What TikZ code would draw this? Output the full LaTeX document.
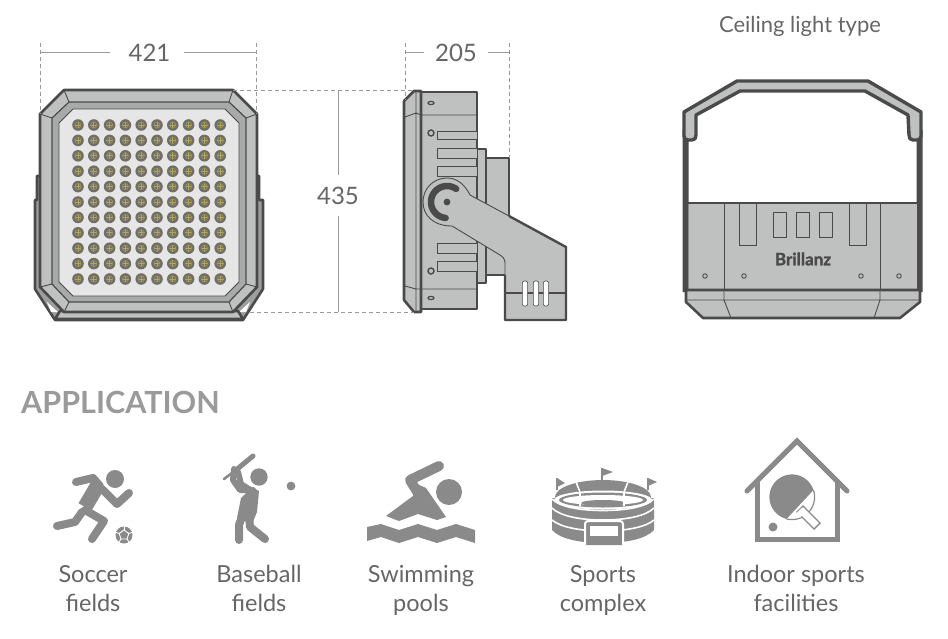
\documentclass[tikz,border=0pt]{standalone}
\usepackage{fontspec}
\setmainfont{Lato}
\newfontfamily\brandfont[BoldFeatures={FakeBold=1.6}]{Lato}
\definecolor{bodygray}{HTML}{BFC1C0}
\definecolor{darkline}{HTML}{4A4A4A}
\definecolor{panelgray}{HTML}{E6E6E6}
\definecolor{icongray}{HTML}{8A8A8A}
\definecolor{dimgray}{HTML}{9A9A9A}
\definecolor{textgray}{HTML}{666666}
\definecolor{ledgray}{HTML}{6F6E68}
\definecolor{ledyellow}{HTML}{B5AB55}
\tikzset{
  lamp/.style={draw=darkline,fill=bodygray,line width=1.2pt,line join=round},
  heavy/.style={draw=darkline,fill=bodygray,line width=2.6pt,line join=round},
  thinline/.style={draw=darkline,line width=.9pt},
  dimline/.style={draw=dimgray,line width=1pt},
  guide/.style={draw=dimgray,line width=.6pt,dash pattern=on 4pt off 3pt},
  dimtext/.style={text=textgray,font=\fontsize{24}{26}\selectfont,inner sep=0pt},
  caption/.style={text=textgray,font=\fontsize{23.5}{28}\selectfont,align=center,inner sep=0pt},
  limb/.style={draw=icongray,line width=8pt,line cap=round,line join=round},
  screw/.style={draw=darkline,fill=bodygray,line width=.9pt,circle,inner sep=0pt,minimum size=4.5pt}
}
\begin{document}
\begin{tikzpicture}[x=1pt,y=-1pt]
\useasboundingbox (0,0) rectangle (948,638);

% front view
\filldraw[heavy,fill=bodygray!70!darkline] (37,176) -- (37,200) -- (35,200) -- (35,289) -- (55,320) -- (243,320) -- (263,289) -- (263,200) -- (259,200) -- (259,176) -- cycle;
\fill[white] (47,302) -- (58,312) -- (51,312) -- cycle (250,302) -- (239,312) -- (246,312) -- cycle;
\filldraw[heavy,fill=bodygray] (55,319) -- (243,319) -- (238,311) -- (60,311) -- cycle;
\filldraw[heavy] (64,90) -- (233,90) -- (257,114) -- (257,287) -- (233,312) -- (64,312) -- (40,287) -- (40,114) -- cycle;
\filldraw[lamp,fill=bodygray!88!black] (69,102) -- (229,102) -- (246,118) -- (246,284) -- (229,302) -- (69,302) -- (52,284) -- (52,118) -- cycle;
\draw[thinline] (64,90) -- (69,102) (233,90) -- (229,102) (257,114) -- (246,118) (40,114) -- (52,118) (40,287) -- (52,284) (257,287) -- (246,284) (64,312) -- (69,302) (233,312) -- (229,302);
\filldraw[draw=darkline,line width=.9pt,fill=panelgray] (73,109) -- (225,109) -- (239,123) -- (239,282) -- (225,296) -- (73,296) -- (59,282) -- (59,123) -- cycle;
\foreach \i in {0,...,9}
  \foreach \j in {0,...,10} {
    \fill[ledgray] ({78+15.8*\i},{125+15.4*\j}) circle (5.8);
    \draw[ledyellow,line width=.9pt] ({78+15.8*\i-3.4},{125+15.4*\j}) -- ++(6.8,0) ({78+15.8*\i},{125+15.4*\j-3.4}) -- ++(0,6.8);
    \draw[ledyellow!60!ledgray,line width=.7pt] ({78+15.8*\i},{125+15.4*\j}) circle (3);
  }

% side view
\filldraw[heavy] (486,158) -- (509,158) -- (509,275) -- (486,275) -- cycle;
\filldraw[heavy] (477,149) -- (486,149) -- (486,283) -- (477,283) -- cycle;
\filldraw[heavy] (421,92) -- (477,92) -- (477,309) -- (421,309) -- cycle;
\filldraw[heavy] (404,101) -- (414,91) -- (421,91) -- (421,312) -- (414,312) -- (404,300) -- cycle;
\draw[thinline] (416,91) -- (416,312) (405,117) -- (416,113) -- (421,115) -- (477,115) (405,286) -- (416,289) -- (477,289);
\foreach \ya/\yb in {131/139,148/158,166/176,243/253,261/271}
  \filldraw[thinline,fill=bodygray] (437,\ya) rectangle (477,\yb);
\foreach \ya in {133,271}
  \draw[draw=darkline,line width=1.4pt] (431,\ya) circle (3);
\foreach \ya in {103,298}
  \draw[draw=darkline,line width=1.2pt] (431,\ya) ellipse (3 and 1.6);
\filldraw[draw=none,fill=bodygray] (447,202) circle (24);
\draw[thinline] (470,195) .. controls (464,183) and (456,178) .. (447,178) .. controls (433,178) and (423,189) .. (423,202) .. controls (423,215) and (433,226) .. (452,226);
\filldraw[draw=none,fill=bodygray] (470,195) -- (566,247) -- (566,320) -- (505,320) -- (505,263) -- (500,255) -- (452,226) -- (447,200) -- cycle;
\draw[thinline] (470,195) -- (509,216);
\draw[darkline,line width=2.4pt,line join=round] (509,216) -- (566,247) -- (566,320) -- (505,320) -- (505,275);
\draw[thinline] (505,275) -- (505,263) .. controls (505,259) and (503,257) .. (500,255) -- (452,226);
\draw[darkline,line width=1.6pt] (505,293) -- (566,293);
\foreach \xa in {525,536,546}
  \filldraw[draw=darkline,line width=.6pt,fill=white,rounded corners=2pt] (\xa-2.6,281) rectangle (\xa+2.6,306);
\draw[darkline,line width=6.5pt,line cap=round] plot[domain=55:265,samples=30] ({447+16*cos(\x)},{202-16*sin(\x)});
\fill[darkline] (447,202) circle (3.4);

% ceiling view
\fill[darkline] (682.5,130) rectangle (688.5,292) (916.5,130) rectangle (922.5,292);
\filldraw[lamp,line width=3.4pt] (684,112) -- (737,81) -- (868,81) -- (921,112) -- (921,136) .. controls (921,139) and (919,140) .. (917,140) -- (913,140) .. controls (910,140) and (909,138) .. (909,135) -- (908,115) -- (865,91) -- (740,91) -- (696,115) -- (696,135) .. controls (696,138) and (695,140) .. (692,140) -- (688,140) .. controls (686,140) and (684,139) .. (684,136) -- cycle;
\filldraw[draw=none,fill=bodygray] (688.5,203) rectangle (916.5,292);
\draw[darkline,line width=2.4pt] (688,203) -- (917,203);
\foreach \xa in {724,880}
  \draw[thinline] (\xa,203) -- (\xa,290);
\foreach \xa in {739,849}
  \draw[thinline] (\xa,203) rectangle (\xa+17,245);
\foreach \xa in {773,796,819}
  \draw[thinline] (\xa,212) rectangle (\xa+13,237);
\filldraw[heavy] (686,290) -- (920,290) -- (920,302) -- (900,318) -- (703,318) -- (686,302) -- cycle;
\draw[thinline] (686,300) -- (920,300) (724,290) -- (724,300) -- (731,318) (880,290) -- (880,300) -- (874,318);
\foreach \xa/\name in {705/sa,744/sb,861/sc,899/sd}
  \node at (\xa,276) [screw] (\name) {};
\node at (803,259) [text=darkline,inner sep=0pt,font=\fontsize{17}{18}\brandfont\bfseries\selectfont] (brand) {Brillanz};

% dimensions
\coordinate (wl) at (40,52);
\coordinate (wa) at (110,52);
\coordinate (wb) at (184,52);
\coordinate (wr) at (256,52);
\coordinate (dl) at (405,52);
\coordinate (da) at (424,52);
\coordinate (db) at (488,52);
\coordinate (dr) at (509,52);
\coordinate (ht) at (338,90);
\coordinate (ha) at (338,175);
\coordinate (hb) at (338,216);
\coordinate (hd) at (338,312);
\draw[dimline] (wl) -- (wa) (wb) -- (wr) (dl) -- (da) (db) -- (dr) (ht) -- (ha) (hb) -- (hd);
\draw[guide] (40,43) -- (40,114) (256,43) -- (256,114) (405,43) -- (405,100) (509,43) -- (509,158) (233,90) -- (414,90) (250,312) -- (414,312);
\node at (149.5,53) [dimtext] (wtext) {421};
\node at (456,53) [dimtext] (dtext) {205};
\node at (338,196) [dimtext] (htext) {435};
\node at (800,26) [text=textgray,inner sep=0pt,font=\fontsize{22}{24}\selectfont] (ceiling) {Ceiling light type};

\node at (120.5,402) [text=dimgray,inner sep=0pt,font=\fontsize{30.5}{33}\bfseries\selectfont] (application) {APPLICATION};

% soccer
\fill[icongray] (115,479) circle (9);
\draw[limb] (76,482) -- (93,478) -- (100,486);
\draw[limb,line width=15pt,line cap=butt] (99,483) -- (85,507);
\draw[limb] (103,490) -- (117,504) -- (129,493);
\draw[limb] (85,510) -- (104,521) -- (92,539);
\draw[limb] (82,512) -- (75,522) -- (57,526);
\fill[icongray] (124,535) circle (8.5);
\filldraw[fill=icongray,draw=white,line width=.9pt] (124,530) -- (128.8,533.5) -- (127,539) -- (121,539) -- (119.2,533.5) -- cycle;
\foreach \a in {90,162,234,306,18}
  \draw[white,line width=.9pt] (124,535) ++ ({5*cos(\a)},{-5*sin(\a)}) -- ++({4*cos(\a)},{-4*sin(\a)});

% baseball
\fill[icongray] (259,477) circle (8.7);
\fill[icongray] (291,486) circle (4.4);
\draw[icongray,line width=5pt,line cap=round] (253,456) -- (236,470);
\draw[icongray,line width=2.6pt,line cap=round] (236,470) -- (224,479);
\draw[limb,line width=6pt] (234,469) -- (233,480) -- (240,490) -- (253,490);
\draw[limb,line width=6pt] (238,472) -- (241,484) -- (252,491);
\fill[icongray] (252,487) -- (259,491) -- (257,512) -- (252,524) -- (237,518) -- (241,498) -- cycle;
\draw[limb] (243,514) -- (239,525) -- (239,540);
\draw[limb] (249,515) -- (250,527) -- (265,539);

% swimming
\fill[icongray] (449,492) circle (13);
\draw[limb,line width=10pt] (439,466) -- (410,480) -- (421,498);
\fill[icongray] (386,516) -- (413,496) -- (417,484) -- (426,488) -- (446,517) -- (437,520) -- (418,514) -- (399,521) -- cycle;
\fill[icongray] (367,527) -- (381,524) -- (399,530) -- (418,524) -- (437,530) -- (456,524) -- (475,530) -- (475,543) -- (456,537) -- (437,543) -- (418,537) -- (399,543) -- (381,537) -- (367,541) -- cycle;

% stadium
\draw[icongray,line width=1.2pt] (557,490) -- (557,478) (602,481) -- (602,468) (648,490) -- (648,478);
\fill[icongray] (557,478) -- (565,483) -- (557,487) -- cycle;
\fill[icongray] (602,468) -- (613,472) -- (602,476) -- cycle;
\fill[icongray] (648,478) -- (657,482) -- (648,486) -- cycle;
\fill[icongray] (603,497) ellipse (48 and 17);
\fill[icongray] (552,498) -- (552,530) .. controls (560,539) and (580,543) .. (603,543) .. controls (626,543) and (646,539) .. (654,530) -- (654,498) -- cycle;
\fill[white] (603,500) ellipse (49 and 9.5);
\fill[icongray] (603,500) ellipse (44 and 7.5);
\fill[white] (603,500) ellipse (40 and 5);
\fill[icongray] (603,503) ellipse (22 and 3);
\draw[white,line width=1.6pt] (552,499) .. controls (560,507) and (580,510.5) .. (603,510.5) .. controls (626,510.5) and (646,507) .. (654,499);
\draw[white,line width=1.6pt] (552,508) .. controls (560,516) and (580,520) .. (603,520) .. controls (626,520) and (646,516) .. (654,508);
\draw[white,line width=1.6pt] (552,520) .. controls (560,527) and (580,531) .. (603,531) .. controls (626,531) and (646,527) .. (654,520);
\draw[white,line width=1.6pt] (576,482) -- (580,492) (628,482) -- (624,492);
\draw[white,line width=1.2pt] (580,492) -- (580,506) (624,492) -- (624,506);
\filldraw[fill=icongray,draw=white,line width=2pt,rounded corners=3pt] (585,545) -- (585,521) -- (623,521) -- (623,545);
\fill[white] (590,526) rectangle (618,536);

% indoor sports
\draw[icongray,line width=5pt,line cap=round,line join=miter] (747,491) -- (797,441) -- (847,491);
\draw[icongray,line width=5pt] (757,481) -- (757,539) -- (837,539) -- (837,481);
\fill[icongray] plot[domain=18:256,samples=40] ({792+22.6*cos(\x)},{497-22.6*sin(\x)}) -- cycle;
\draw[icongray,line width=1.2pt] plot[domain=-104:18,samples=20] ({792+22.6*cos(\x)},{497-22.6*sin(\x)});
\filldraw[fill=white,draw=icongray,line width=1.4pt] (803,506) -- (820,523) -- (814,529) -- (797,512) -- cycle;
\fill[white] (802,507.5) -- (806,511.5) -- (800,517.5) -- (796,513.5) -- cycle;
\fill[icongray] (773,527) circle (4.5);

% captions
\node at (93,591.5) [caption] (soccer) {\strut Soccer\\[1pt]\strut fields};
\node at (259,591.5) [caption] (baseball) {\strut Baseball\\[1pt]\strut fields};
\node at (421,591.5) [caption] (swimming) {\strut Swimming\\[1pt]\strut pools};
\node at (603,591.5) [caption] (sports) {\strut Sports\\[1pt]\strut complex};
\node at (796,591.5) [caption] (indoor) {\strut Indoor sports\\[1pt]\strut facilities};
\end{tikzpicture}
\end{document}
